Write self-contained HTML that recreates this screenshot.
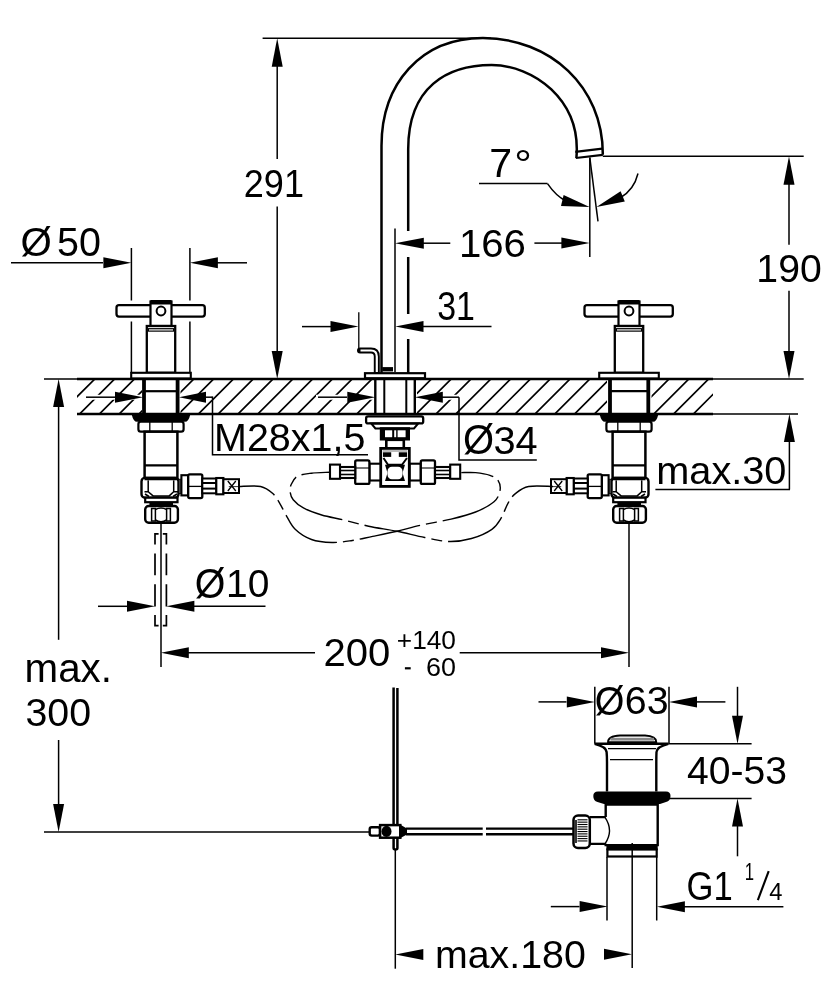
<!DOCTYPE html>
<html><head><meta charset="utf-8"><style>
html,body{margin:0;padding:0;background:#fff;width:834px;height:1000px;overflow:hidden}
svg{display:block;will-change:transform}
text{font-family:"Liberation Sans",sans-serif;fill:#000;stroke:none}
</style></head><body>
<svg width="834" height="1000" viewBox="0 0 834 1000" stroke="#000" fill="none">
<defs><clipPath id="hc"><rect x="77" y="380" width="636" height="33"/></clipPath></defs>
<path d="M0.4,414 L35.4,379 M20.2,414 L55.2,379 M40.0,414 L75.0,379 M59.8,414 L94.8,379 M79.6,414 L114.6,379 M99.4,414 L134.4,379 M119.2,414 L154.2,379 M139.0,414 L174.0,379 M158.8,414 L193.8,379 M178.6,414 L213.6,379 M198.4,414 L233.4,379 M218.2,414 L253.2,379 M238.0,414 L273.0,379 M257.8,414 L292.8,379 M277.6,414 L312.6,379 M297.4,414 L332.4,379 M317.2,414 L352.2,379 M337.0,414 L372.0,379 M356.8,414 L391.8,379 M376.6,414 L411.6,379 M396.4,414 L431.4,379 M416.2,414 L451.2,379 M436.0,414 L471.0,379 M455.8,414 L490.8,379 M475.6,414 L510.6,379 M495.4,414 L530.4,379 M515.2,414 L550.2,379 M535.0,414 L570.0,379 M554.8,414 L589.8,379 M574.6,414 L609.6,379 M594.4,414 L629.4,379 M614.2,414 L649.2,379 M634.0,414 L669.0,379 M653.8,414 L688.8,379 M673.6,414 L708.6,379 M693.4,414 L728.4,379 M713.2,414 L748.2,379 M733.0,414 L768.0,379 M752.8,414 L787.8,379" stroke-width="1.7" clip-path="url(#hc)"/>
<line x1="84.00" y1="397.20" x2="143.00" y2="397.20" stroke-width="5" stroke="#fff"/>
<line x1="179.00" y1="397.20" x2="212.50" y2="397.20" stroke-width="5" stroke="#fff"/>
<line x1="316.00" y1="397.20" x2="375.00" y2="397.20" stroke-width="5" stroke="#fff"/>
<line x1="415.00" y1="397.20" x2="459.00" y2="397.20" stroke-width="5" stroke="#fff"/>
<rect x="142.00" y="380.00" width="38.50" height="33.00" rx="0" stroke-width="0" fill="#fff"  stroke="none"/>
<rect x="607.00" y="380.00" width="44.50" height="33.00" rx="0" stroke-width="0" fill="#fff"  stroke="none"/>
<rect x="373.00" y="380.00" width="44.00" height="33.00" rx="0" stroke-width="0" fill="#fff"  stroke="none"/>
<line x1="77.00" y1="379.00" x2="713.00" y2="379.00" stroke-width="2.4" />
<line x1="44.00" y1="379.00" x2="77.00" y2="379.00" stroke-width="1.5" />
<line x1="713.00" y1="379.00" x2="803.70" y2="379.00" stroke-width="1.5" />
<line x1="77.00" y1="414.00" x2="713.00" y2="414.00" stroke-width="2.4" />
<line x1="713.00" y1="414.00" x2="798.00" y2="414.00" stroke-width="1.5" />
<path d="M381.5,373 V145.96 C381.5,83.74 420.77,38.08 482.87,38.08 C549.93,38.08 603.27,86.51 602.8,154.8" stroke-width="2.5" fill="none" />
<path d="M408.2,231 V149.19 C408.2,86.64 447.53,65.06 491.64,65.06 C532.62,65.06 581.60,99.10 576.4,158" stroke-width="2.5" fill="none" />
<line x1="408.20" y1="257.00" x2="408.20" y2="314.00" stroke-width="2.5" />
<line x1="408.20" y1="339.00" x2="408.20" y2="373.00" stroke-width="2.5" />
<path d="M575.3,151.8 L602.3,148.6 M575.8,158 L602.8,154.8" stroke-width="2.2" fill="none" />
<rect x="382.20" y="367.10" width="10.80" height="4.30" rx="0" stroke-width="0" fill="#000"  stroke="none"/>
<line x1="358.80" y1="312.20" x2="358.80" y2="348.00" stroke-width="1.3" />
<path d="M360,350.5 H371 Q376.8,350.5 376.8,356.5 V373" stroke-width="6" fill="none" stroke-linecap="round"/>
<path d="M360.5,350.5 H371 Q376.8,350.5 376.8,356.5 V372" stroke-width="2.2" fill="none" stroke="#fff"/>
<rect x="365.00" y="373.20" width="60.00" height="5.00" rx="0" stroke-width="2.2" fill="#fff" />
<line x1="262.60" y1="38.20" x2="491.00" y2="38.20" stroke-width="1.5" />
<line x1="277.20" y1="66.00" x2="277.20" y2="159.00" stroke-width="1.5" />
<line x1="277.20" y1="206.40" x2="277.20" y2="352.00" stroke-width="1.5" />
<polygon points="277.2,38.2 282.7,66.7 271.7,66.7" fill="#000" stroke="none"/>
<polygon points="277.2,379.0 271.7,351.0 282.7,351.0" fill="#000" stroke="none"/>
<text transform="matrix(0.36051 0 0 0.39155 243.80 196.51)" font-size="100">291</text>
<line x1="395.00" y1="228.50" x2="395.00" y2="372.00" stroke-width="1.5" />
<polygon points="395.0,243.2 423.8,237.7 423.8,248.7" fill="#000" stroke="none"/>
<line x1="423.00" y1="243.20" x2="450.30" y2="243.20" stroke-width="1.5" />
<text transform="matrix(0.40195 0 0 0.38592 458.88 256.71)" font-size="100">166</text>
<line x1="534.40" y1="243.10" x2="562.00" y2="243.10" stroke-width="1.5" />
<polygon points="589.6,243.1 561.4,248.6 561.4,237.6" fill="#000" stroke="none"/>
<line x1="589.80" y1="157.60" x2="589.80" y2="257.00" stroke-width="1.5" />
<line x1="589.80" y1="157.60" x2="598.00" y2="221.40" stroke-width="1.5" />
<text transform="matrix(0.41087 0 0 0.40735 489.15 177.11)" font-size="100">7</text>
<text transform="matrix(0.43929 0 0 0.41071 514.36 178.45)" font-size="100">°</text>
<line x1="479.00" y1="183.60" x2="547.50" y2="183.60" stroke-width="1.5" />
<path d="M547.5,183.6 Q556,196 566,201" stroke-width="1.5" fill="none" />
<polygon points="589.6,207.0 561.0,205.9 563.6,195.1" fill="#000" stroke="none"/>
<polygon points="596.5,207.0 620.6,191.2 624.8,201.4" fill="#000" stroke="none"/>
<path d="M620,198 Q634,190 638,173.5" stroke-width="1.5" fill="none" />
<line x1="602.80" y1="156.20" x2="803.70" y2="156.20" stroke-width="1.5" />
<polygon points="789.0,156.2 794.5,184.8 783.5,184.8" fill="#000" stroke="none"/>
<line x1="789.00" y1="184.00" x2="789.00" y2="244.80" stroke-width="1.5" />
<line x1="789.00" y1="290.70" x2="789.00" y2="352.00" stroke-width="1.5" />
<polygon points="789.0,379.0 783.5,351.0 794.5,351.0" fill="#000" stroke="none"/>
<text transform="matrix(0.39161 0 0 0.38310 756.37 281.82)" font-size="100">190</text>
<line x1="302.00" y1="326.60" x2="331.00" y2="326.60" stroke-width="1.5" />
<polygon points="358.5,326.6 330.5,332.1 330.5,321.1" fill="#000" stroke="none"/>
<polygon points="395.3,326.6 423.5,321.1 423.5,332.1" fill="#000" stroke="none"/>
<line x1="423.00" y1="326.60" x2="491.50" y2="326.60" stroke-width="1.5" />
<text transform="matrix(0.33922 0 0 0.40141 437.24 319.90)" font-size="100">31</text>
<line x1="11.00" y1="262.80" x2="103.00" y2="262.80" stroke-width="1.5" />
<polygon points="131.4,262.8 103.4,268.3 103.4,257.3" fill="#000" stroke="none"/>
<polygon points="189.9,262.8 217.9,257.3 217.9,268.3" fill="#000" stroke="none"/>
<line x1="217.00" y1="262.80" x2="247.00" y2="262.80" stroke-width="1.5" />
<line x1="131.40" y1="248.00" x2="131.40" y2="300.50" stroke-width="1.5" />
<line x1="131.40" y1="321.50" x2="131.40" y2="373.00" stroke-width="1.5" />
<line x1="189.90" y1="248.00" x2="189.90" y2="300.50" stroke-width="1.5" />
<line x1="189.90" y1="321.50" x2="189.90" y2="373.00" stroke-width="1.5" />
<text transform="matrix(0.40286 0 0 0.41081 20.39 255.78)" font-size="100">Ø</text>
<text transform="matrix(0.39515 0 0 0.39718 57.02 255.60)" font-size="100">50</text>
<rect x="116.50" y="305.20" width="88.30" height="11.40" rx="2.5" stroke-width="2.3" fill="#fff" />
<rect x="150.50" y="301.50" width="21.00" height="24.50" rx="0" stroke-width="2.2" fill="#fff" />
<rect x="150.50" y="300.00" width="21.00" height="4.50" rx="0" stroke-width="0" fill="#000"  stroke="none"/>
<circle cx="161" cy="311" r="4.4" stroke-width="2" fill="#fff"/>
<rect x="146.80" y="326.00" width="28.40" height="46.80" rx="0" stroke-width="2.3" fill="#fff" />
<rect x="148.50" y="328.60" width="25.00" height="2.60" rx="0" stroke-width="1" fill="#bbb" />
<rect x="131.20" y="372.80" width="59.60" height="5.60" rx="0" stroke-width="2.1" fill="#fff" />
<rect x="142.10" y="379.00" width="3.80" height="35.00" rx="0" stroke-width="0" fill="#000"  stroke="none"/>
<rect x="175.70" y="379.00" width="3.80" height="35.00" rx="0" stroke-width="0" fill="#000"  stroke="none"/>
<line x1="145.10" y1="391.20" x2="176.50" y2="391.20" stroke-width="2.2" />
<path d="M132.5,414.5 H189.5 Q188,421 185,421 H137 Q134,421 132.5,414.5 Z" stroke-width="1.5" fill="#000" />
<rect x="138.40" y="421.70" width="45.20" height="10.00" rx="2.5" stroke-width="2.2" fill="#fff" />
<line x1="149.80" y1="422.00" x2="149.80" y2="431.00" stroke-width="1.3" />
<line x1="172.20" y1="422.00" x2="172.20" y2="431.00" stroke-width="1.3" />
<rect x="144.60" y="431.70" width="32.80" height="46.30" rx="0" stroke-width="2.5" fill="#fff" />
<line x1="144.60" y1="465.30" x2="177.40" y2="465.30" stroke-width="2.3" />
<rect x="141.50" y="477.90" width="37.00" height="19.80" rx="3.5" stroke-width="2.4" fill="#fff" />
<path d="M148.2,480.5 V491.7 L153.1,495.9 H169.2 L173.7,491.7 V480.5 M144.5,479.6 H177.5 M144.5,491.7 H148.2 M173.7,491.7 H178 M145,494 L149,496.5 M177,494 L173,496.5" stroke-width="1.5" fill="none" />
<rect x="145.20" y="497.70" width="32.30" height="4.50" rx="0" stroke-width="2.2" fill="#fff" />
<rect x="149.40" y="502.20" width="23.60" height="4.00" rx="0" stroke-width="0" fill="#000"  stroke="none"/>
<rect x="145.20" y="506.00" width="32.70" height="16.80" rx="3.5" stroke-width="2.4" fill="#fff" />
<rect x="151.60" y="508.50" width="3.80" height="12.50" rx="0" stroke-width="1.5" fill="#fff" />
<rect x="166.60" y="508.50" width="3.80" height="12.50" rx="0" stroke-width="1.5" fill="#fff" />
<path d="M155.4,509.5 Q161,506.5 166.6,509.5 M155.4,520 Q161,523.5 166.6,520" stroke-width="1.5" fill="none" />
<rect x="584.50" y="305.20" width="88.30" height="11.40" rx="2.5" stroke-width="2.3" fill="#fff" />
<rect x="618.50" y="301.50" width="21.00" height="24.50" rx="0" stroke-width="2.2" fill="#fff" />
<rect x="618.50" y="300.00" width="21.00" height="4.50" rx="0" stroke-width="0" fill="#000"  stroke="none"/>
<circle cx="629" cy="311" r="4.4" stroke-width="2" fill="#fff"/>
<rect x="614.80" y="326.00" width="28.40" height="46.80" rx="0" stroke-width="2.3" fill="#fff" />
<rect x="616.50" y="328.60" width="25.00" height="2.60" rx="0" stroke-width="1" fill="#bbb" />
<rect x="599.20" y="372.80" width="59.60" height="5.60" rx="0" stroke-width="2.1" fill="#fff" />
<rect x="608.10" y="379.00" width="3.80" height="35.00" rx="0" stroke-width="0" fill="#000"  stroke="none"/>
<rect x="646.40" y="379.00" width="3.80" height="35.00" rx="0" stroke-width="0" fill="#000"  stroke="none"/>
<line x1="611.10" y1="391.20" x2="647.20" y2="391.20" stroke-width="2.2" />
<path d="M600.5,414.5 H657.5 Q656,421 653,421 H605 Q602,421 600.5,414.5 Z" stroke-width="1.5" fill="#000" />
<rect x="606.40" y="421.70" width="45.20" height="10.00" rx="2.5" stroke-width="2.2" fill="#fff" />
<line x1="617.80" y1="422.00" x2="617.80" y2="431.00" stroke-width="1.3" />
<line x1="640.20" y1="422.00" x2="640.20" y2="431.00" stroke-width="1.3" />
<rect x="612.60" y="431.70" width="32.80" height="46.30" rx="0" stroke-width="2.5" fill="#fff" />
<line x1="612.60" y1="465.30" x2="645.40" y2="465.30" stroke-width="2.3" />
<rect x="611.50" y="477.90" width="37.00" height="19.80" rx="3.5" stroke-width="2.4" fill="#fff" />
<path d="M616.2,480.5 V491.7 L621.1,495.9 H637.2 L641.7,491.7 V480.5 M612.5,479.6 H645.5 M612.5,491.7 H616.2 M641.7,491.7 H646 M613,494 L617,496.5 M645,494 L641,496.5" stroke-width="1.5" fill="none" />
<rect x="613.20" y="497.70" width="32.30" height="4.50" rx="0" stroke-width="2.2" fill="#fff" />
<rect x="617.40" y="502.20" width="23.60" height="4.00" rx="0" stroke-width="0" fill="#000"  stroke="none"/>
<rect x="613.20" y="506.00" width="32.70" height="16.80" rx="3.5" stroke-width="2.4" fill="#fff" />
<rect x="619.60" y="508.50" width="3.80" height="12.50" rx="0" stroke-width="1.5" fill="#fff" />
<rect x="634.60" y="508.50" width="3.80" height="12.50" rx="0" stroke-width="1.5" fill="#fff" />
<path d="M623.4,509.5 Q629,506.5 634.6,509.5 M623.4,520 Q629,523.5 634.6,520" stroke-width="1.5" fill="none" />
<rect x="178.80" y="479.20" width="2.60" height="14.20" rx="0" stroke-width="0.8" fill="#555" />
<rect x="181.40" y="475.20" width="6.80" height="20.20" rx="0" stroke-width="2.1" fill="#fff" />
<rect x="188.20" y="474.30" width="14.10" height="23.80" rx="1.5" stroke-width="2.3" fill="#fff" />
<line x1="188.20" y1="486.40" x2="202.30" y2="486.40" stroke-width="1.3" />
<rect x="202.30" y="478.50" width="14.00" height="14.80" rx="0" stroke-width="2" fill="#fff" />
<line x1="202.30" y1="483.00" x2="216.30" y2="483.00" stroke-width="2" />
<line x1="202.30" y1="488.60" x2="216.30" y2="488.60" stroke-width="2" />
<rect x="216.30" y="478.00" width="7.10" height="16.30" rx="0" stroke-width="2.1" fill="#fff" />
<rect x="223.40" y="479.20" width="15.60" height="13.80" rx="0" stroke-width="2" fill="#fff" />
<path d="M227.8,481 L235.8,491 M227.8,491 L235.8,481" stroke-width="1.3" fill="none" />
<line x1="228.80" y1="486.60" x2="238.80" y2="486.60" stroke-width="0.8" />
<rect x="608.60" y="479.20" width="2.60" height="14.20" rx="0" stroke-width="0.8" fill="#555" />
<rect x="601.80" y="475.20" width="6.80" height="20.20" rx="0" stroke-width="2.1" fill="#fff" />
<rect x="587.70" y="474.30" width="14.10" height="23.80" rx="1.5" stroke-width="2.3" fill="#fff" />
<line x1="587.70" y1="486.40" x2="601.80" y2="486.40" stroke-width="1.3" />
<rect x="573.70" y="478.50" width="14.00" height="14.80" rx="0" stroke-width="2" fill="#fff" />
<line x1="573.70" y1="483.00" x2="587.70" y2="483.00" stroke-width="2" />
<line x1="573.70" y1="488.60" x2="587.70" y2="488.60" stroke-width="2" />
<rect x="566.60" y="478.00" width="7.10" height="16.30" rx="0" stroke-width="2.1" fill="#fff" />
<rect x="551.00" y="479.20" width="15.60" height="13.80" rx="0" stroke-width="2" fill="#fff" />
<path d="M562.2,481 L554.2,491 M562.2,491 L554.2,481" stroke-width="1.3" fill="none" />
<line x1="551.20" y1="486.60" x2="561.20" y2="486.60" stroke-width="0.8" />
<line x1="375.30" y1="379.00" x2="375.30" y2="414.00" stroke-width="2.4" />
<line x1="414.80" y1="379.00" x2="414.80" y2="414.00" stroke-width="2.4" />
<line x1="384.30" y1="379.00" x2="384.30" y2="414.00" stroke-width="2" />
<line x1="406.30" y1="379.00" x2="406.30" y2="414.00" stroke-width="2" />
<rect x="366.10" y="416.40" width="57.10" height="7.00" rx="2" stroke-width="2.3" fill="#fff" />
<path d="M371.2,423.4 H418.2 L414,428.5 H375.4 Z" stroke-width="2" fill="none" />
<rect x="379.80" y="427.20" width="30.20" height="13.30" rx="0" stroke-width="0" fill="#000"  stroke="none"/>
<rect x="385.00" y="430.30" width="7.20" height="6.90" rx="0" stroke-width="0" fill="#fff"  stroke="none"/>
<rect x="397.60" y="430.30" width="8.00" height="6.90" rx="0" stroke-width="0" fill="#fff"  stroke="none"/>
<rect x="394.20" y="430.30" width="2.00" height="6.90" rx="0" stroke-width="0" fill="#fff"  stroke="none"/>
<rect x="386.30" y="439.80" width="17.50" height="9.00" rx="0" stroke-width="2.6" fill="#fff" />
<rect x="380.70" y="448.40" width="28.60" height="38.00" rx="0" stroke-width="2.8" fill="#fff" />
<line x1="383.00" y1="451.00" x2="407.00" y2="451.00" stroke-width="1" stroke="#777"/>
<rect x="383.00" y="452.30" width="8.20" height="4.60" rx="0" stroke-width="0" fill="#000"  stroke="none"/>
<rect x="398.80" y="452.30" width="8.20" height="4.60" rx="0" stroke-width="0" fill="#000"  stroke="none"/>
<path d="M383.5,458 L388,464.8 H402 L407,458" stroke-width="2" fill="none" />
<path d="M385,464.8 H405 L402.5,473 L405,481 H385 L387.5,473 Z" stroke-width="0" fill="#000" />
<rect x="387.5" y="466.8" width="15" height="12.5" rx="4.5" fill="#fff" stroke="none"/>
<rect x="369.40" y="463.70" width="11.00" height="16.80" rx="0" stroke-width="2.1" fill="#fff" />
<rect x="355.20" y="460.40" width="14.20" height="23.50" rx="1.5" stroke-width="2.3" fill="#fff" />
<line x1="355.20" y1="468.00" x2="369.40" y2="468.00" stroke-width="1.1" />
<rect x="340.00" y="467.00" width="15.20" height="11.00" rx="0" stroke-width="2.1" fill="#fff" />
<line x1="340.00" y1="470.50" x2="355.20" y2="470.50" stroke-width="1.6" />
<line x1="340.00" y1="474.50" x2="355.20" y2="474.50" stroke-width="1.6" />
<rect x="330.00" y="464.60" width="10.00" height="14.20" rx="0" stroke-width="2.1" fill="#fff" />
<rect x="409.80" y="463.70" width="11.00" height="16.80" rx="0" stroke-width="2.1" fill="#fff" />
<rect x="420.80" y="460.40" width="14.20" height="23.50" rx="1.5" stroke-width="2.3" fill="#fff" />
<line x1="420.80" y1="468.00" x2="435.00" y2="468.00" stroke-width="1.1" />
<rect x="435.00" y="467.00" width="15.20" height="11.00" rx="0" stroke-width="2.1" fill="#fff" />
<line x1="435.00" y1="470.50" x2="450.20" y2="470.50" stroke-width="1.6" />
<line x1="435.00" y1="474.50" x2="450.20" y2="474.50" stroke-width="1.6" />
<rect x="450.20" y="464.60" width="10.00" height="14.20" rx="0" stroke-width="2.1" fill="#fff" />
<line x1="318.00" y1="397.20" x2="347.00" y2="397.20" stroke-width="1.5" />
<polygon points="375.3,397.2 347.3,402.7 347.3,391.7" fill="#000" stroke="none"/>
<polygon points="414.8,397.2 442.8,391.7 442.8,402.7" fill="#000" stroke="none"/>
<line x1="442.00" y1="397.20" x2="459.00" y2="397.20" stroke-width="1.5" />
<path d="M459,397.2 V460 H536.8" stroke-width="1.5" fill="none" />
<text transform="matrix(0.40000 0 0 0.41892 463.00 454.16)" font-size="100">Ø</text>
<text transform="matrix(0.39712 0 0 0.39718 493.41 453.60)" font-size="100">34</text>
<line x1="86.00" y1="397.20" x2="115.00" y2="397.20" stroke-width="1.5" />
<polygon points="143.0,397.2 115.0,402.7 115.0,391.7" fill="#000" stroke="none"/>
<polygon points="179.0,397.2 206.0,391.7 206.0,402.7" fill="#000" stroke="none"/>
<line x1="205.00" y1="397.20" x2="212.50" y2="397.20" stroke-width="1.5" />
<path d="M212.5,396.6 V454.7 H368" stroke-width="1.5" fill="none" />
<text transform="matrix(0.39461 0 0 0.39277 214.04 450.69)" font-size="100">M28x1,5</text>
<line x1="789.40" y1="440.00" x2="789.40" y2="489.50" stroke-width="1.5" />
<polygon points="789.4,414.0 794.9,442.0 783.9,442.0" fill="#000" stroke="none"/>
<path d="M655.4,489.5 H790" stroke-width="1.5" fill="none" />
<text transform="matrix(0.39716 0 0 0.38732 656.22 484.21)" font-size="100">max.30</text>
<path d="M239.2,486.5 C242.8,486.5 255.0,485.3 260.6,486.5 C266.2,487.7 269.6,490.7 272.8,493.6 C276.0,496.5 277.8,500.2 280.0,503.8 C282.2,507.4 283.5,510.8 286.0,515.0 C288.5,519.2 290.9,525.2 295.2,529.3 C299.4,533.4 305.4,537.3 311.5,539.5 C317.6,541.7 325.2,542.3 332.0,542.5 C338.8,542.7 345.5,541.5 352.3,540.5 C359.1,539.5 365.2,537.9 372.7,536.4 C380.2,534.9 389.1,533.2 397.1,531.3 C405.1,529.4 411.6,527.2 420.6,525.2 C429.6,523.2 441.9,521.3 451.1,519.1 C460.3,516.9 468.5,514.9 475.6,512.0 C482.8,509.1 489.9,505.4 494.0,501.8 C498.1,498.2 499.3,494.2 500.0,490.6 C500.7,487.0 499.7,482.9 498.0,480.4 C496.3,477.8 493.6,476.6 489.9,475.3 C486.2,474.0 480.4,473.1 475.6,472.6 C470.8,472.2 463.7,472.6 461.3,472.6" stroke-width="1.4" fill="none" stroke-dasharray="62 6 11 6" stroke-dashoffset="24"/>
<path d="M553.0,486.5 C548.9,486.5 534.9,485.3 528.6,486.5 C522.3,487.7 518.8,490.9 515.4,493.6 C512.0,496.3 510.6,498.7 508.2,502.8 C505.8,506.9 503.8,513.7 501.1,518.1 C498.4,522.5 496.8,525.9 491.9,529.3 C487.0,532.7 478.6,536.5 471.5,538.5 C464.4,540.5 456.9,541.7 449.1,541.5 C441.3,541.3 433.4,539.2 424.7,537.5 C416.0,535.8 406.5,533.2 397.1,531.3 C387.8,529.4 377.4,528.1 368.6,526.2 C359.8,524.3 351.9,522.0 344.1,520.1 C336.3,518.2 328.5,517.0 321.7,515.0 C314.9,513.0 308.1,510.4 303.4,507.9 C298.6,505.3 295.4,502.4 293.2,499.7 C291.0,497.0 290.4,494.1 290.1,491.6 C289.8,489.1 290.0,487.1 291.2,484.5 C292.4,481.9 293.9,478.2 297.3,476.3 C300.7,474.4 306.1,473.9 311.5,473.2 C316.9,472.5 326.8,472.4 329.9,472.2" stroke-width="1.4" fill="none" stroke-dasharray="62 6 11 6" stroke-dashoffset="18"/>
<path d="M158.6,533.8 H155 V544.6 M155,553.6 V575.3 M155,584.3 V606.5 M155,614.9 V625.7 H158.6 M162.8,533.8 H166.4 V544.6 M166.4,553.6 V575.3 M166.4,584.3 V606.5 M166.4,614.9 V625.7 H162.8" stroke-width="1.7" fill="none" />
<line x1="161.00" y1="522.80" x2="161.00" y2="667.00" stroke-width="1.5" />
<line x1="98.00" y1="606.30" x2="127.00" y2="606.30" stroke-width="1.5" />
<polygon points="155.0,606.3 127.0,611.8 127.0,600.8" fill="#000" stroke="none"/>
<polygon points="166.4,606.3 194.4,600.8 194.4,611.8" fill="#000" stroke="none"/>
<line x1="194.00" y1="606.30" x2="265.50" y2="606.30" stroke-width="1.5" />
<text transform="matrix(0.39429 0 0 0.42027 194.82 597.66)" font-size="100">Ø</text>
<text transform="matrix(0.38990 0 0 0.39718 225.98 596.80)" font-size="100">10</text>
<line x1="629.00" y1="522.80" x2="629.00" y2="667.00" stroke-width="1.5" />
<polygon points="160.8,652.8 188.8,647.3 188.8,658.3" fill="#000" stroke="none"/>
<line x1="188.00" y1="652.80" x2="315.00" y2="652.80" stroke-width="1.5" />
<polygon points="629.0,652.8 601.0,658.3 601.0,647.3" fill="#000" stroke="none"/>
<line x1="459.70" y1="652.80" x2="601.50" y2="652.80" stroke-width="1.5" />
<text transform="matrix(0.40063 0 0 0.39296 323.40 666.01)" font-size="100">200</text>
<text transform="matrix(0.26296 0 0 0.25775 396.79 649.34)" font-size="100">+140</text>
<rect x="404.90" y="667.20" width="5.80" height="2.20" rx="0" stroke-width="0" fill="#000"  stroke="none"/>
<text transform="matrix(0.26961 0 0 0.26620 426.05 676.03)" font-size="100">60</text>
<line x1="58.60" y1="407.00" x2="58.60" y2="639.80" stroke-width="1.5" />
<polygon points="58.6,379.0 64.1,407.0 53.1,407.0" fill="#000" stroke="none"/>
<text transform="matrix(0.40348 0 0 0.39818 24.58 681.70)" font-size="100">max.</text>
<text transform="matrix(0.39308 0 0 0.39577 25.43 725.70)" font-size="100">300</text>
<polygon points="58.6,832.0 53.1,804.0 64.1,804.0" fill="#000" stroke="none"/>
<line x1="58.60" y1="740.00" x2="58.60" y2="804.00" stroke-width="1.5" />
<line x1="44.00" y1="832.00" x2="370.00" y2="832.00" stroke-width="1.5" />
<path d="M393.6,687.5 V848 Q393.6,849.5 395.5,849.5 Q397.4,849.5 397.4,848 V688" stroke-width="2.5" fill="none" />
<rect x="369.70" y="827.30" width="10.30" height="8.30" rx="2" stroke-width="2.4" fill="#fff" />
<rect x="380.10" y="825.10" width="20.20" height="12.60" rx="0" stroke-width="2.5" fill="#fff" />
<ellipse cx="386.5" cy="831.4" rx="5" ry="5.6" fill="#000" stroke="none"/>
<polygon points="399,824 407,828.6 407,834.5 399,838.8" fill="#000" stroke="none"/>
<path d="M406,828.6 H482.7 M486,828.6 H573.3 M406,834.3 H482.7 M486,834.3 H573.3" stroke-width="2.4" fill="none" />
<rect x="573.50" y="815.50" width="16.30" height="32.40" rx="4.5" stroke-width="2.5" fill="#fff" />
<rect x="574.50" y="820.00" width="2.50" height="23.00" rx="0" stroke-width="0" fill="#333"  stroke="none"/>
<line x1="577.50" y1="819.80" x2="587.50" y2="819.80" stroke-width="1.1" />
<line x1="577.50" y1="822.15" x2="587.50" y2="822.15" stroke-width="1.1" />
<line x1="577.50" y1="824.50" x2="587.50" y2="824.50" stroke-width="1.1" />
<line x1="577.50" y1="826.85" x2="587.50" y2="826.85" stroke-width="1.1" />
<line x1="577.50" y1="829.20" x2="587.50" y2="829.20" stroke-width="1.1" />
<line x1="577.50" y1="831.55" x2="587.50" y2="831.55" stroke-width="1.1" />
<line x1="577.50" y1="833.90" x2="587.50" y2="833.90" stroke-width="1.1" />
<line x1="577.50" y1="836.25" x2="587.50" y2="836.25" stroke-width="1.1" />
<line x1="577.50" y1="838.60" x2="587.50" y2="838.60" stroke-width="1.1" />
<line x1="577.50" y1="840.95" x2="587.50" y2="840.95" stroke-width="1.1" />
<path d="M589.8,817.1 H605.7 M589.8,843.8 H605.7" stroke-width="2.3" fill="none" />
<path d="M605,817.3 Q614,830.5 605,843.8" stroke-width="1.4" fill="none" />
<path d="M605.7,817.1 V804.5 H657.7 V845.1 H605.7 V843.8" stroke-width="2.4" fill="none" />
<path d="M598,791.4 H666 Q670.5,791.4 670.5,796 Q670.5,801 666,802 L660,804 H604 L597.5,802 Q593.3,801 593.3,796 Q593.3,791.4 598,791.4 Z" stroke-width="0" fill="#000" />
<path d="M594.6,743.8 H668.4 Q657,746.5 656.5,752 Q656.3,756 656.3,762 V791.4 M594.6,743.8 Q606,746.5 606.6,752 Q607,756 607,762 V791.4" stroke-width="2.4" fill="none" />
<line x1="608.00" y1="748.60" x2="656.00" y2="748.60" stroke-width="1.4" />
<line x1="610.00" y1="759.60" x2="653.00" y2="759.60" stroke-width="1.4" />
<path d="M608,742.1 Q608,736 620,735.5 H645 Q656.3,736 656.3,742.1 Z" stroke-width="1.8" fill="#fff" />
<rect x="610.50" y="737.80" width="43.50" height="2.80" rx="0" stroke-width="0" fill="#888"  stroke="none"/>
<rect x="606.40" y="845.60" width="51.30" height="4.60" rx="0" stroke-width="0" fill="#000"  stroke="none"/>
<rect x="607.40" y="849.50" width="49.30" height="7.00" rx="0" stroke-width="2.2" fill="#fff" />
<line x1="607.00" y1="857.00" x2="607.00" y2="920.50" stroke-width="1.5" />
<line x1="656.70" y1="857.00" x2="656.70" y2="920.50" stroke-width="1.5" />
<line x1="632.20" y1="843.00" x2="632.20" y2="968.10" stroke-width="1.5" />
<line x1="594.80" y1="686.80" x2="594.80" y2="743.80" stroke-width="1.5" />
<line x1="669.00" y1="686.80" x2="669.00" y2="743.80" stroke-width="1.5" />
<line x1="538.50" y1="701.90" x2="566.50" y2="701.90" stroke-width="1.5" />
<polygon points="594.8,701.9 566.8,707.4 566.8,696.4" fill="#000" stroke="none"/>
<polygon points="669.0,701.9 697.0,696.4 697.0,707.4" fill="#000" stroke="none"/>
<line x1="696.00" y1="701.90" x2="725.40" y2="701.90" stroke-width="1.5" />
<text transform="matrix(0.38143 0 0 0.41351 594.67 715.17)" font-size="100">Ø</text>
<text transform="matrix(0.39314 0 0 0.38873 624.83 714.41)" font-size="100">63</text>
<line x1="737.50" y1="686.80" x2="737.50" y2="716.00" stroke-width="1.5" />
<polygon points="737.5,743.8 732.0,715.8 743.0,715.8" fill="#000" stroke="none"/>
<line x1="668.40" y1="743.80" x2="751.60" y2="743.80" stroke-width="1.5" />
<line x1="667.70" y1="798.60" x2="751.60" y2="798.60" stroke-width="1.5" />
<polygon points="737.5,798.6 743.0,826.6 732.0,826.6" fill="#000" stroke="none"/>
<line x1="737.50" y1="826.00" x2="737.50" y2="856.30" stroke-width="1.5" />
<text transform="matrix(0.39116 0 0 0.38873 687.02 784.21)" font-size="100">40-53</text>
<line x1="550.80" y1="906.60" x2="579.50" y2="906.60" stroke-width="1.5" />
<polygon points="607.6,906.6 579.6,912.1 579.6,901.1" fill="#000" stroke="none"/>
<polygon points="656.9,906.7 684.9,901.2 684.9,912.2" fill="#000" stroke="none"/>
<line x1="684.00" y1="906.70" x2="783.40" y2="906.70" stroke-width="1.5" />
<text transform="matrix(0.34634 0 0 0.40282 686.47 899.80)" font-size="100">G1</text>
<text transform="matrix(0.16744 0 0 0.24783 744.66 880.40)" font-size="100">1</text>
<line x1="757.80" y1="900.20" x2="768.70" y2="871.20" stroke-width="2.1" />
<text transform="matrix(0.23725 0 0 0.23676 769.23 899.84)" font-size="100">4</text>
<line x1="395.30" y1="849.50" x2="395.30" y2="968.70" stroke-width="1.5" />
<polygon points="395.3,954.6 423.3,949.1 423.3,960.1" fill="#000" stroke="none"/>
<polygon points="632.0,954.3 604.0,959.8 604.0,948.8" fill="#000" stroke="none"/>
<text transform="matrix(0.39330 0 0 0.37887 434.95 967.62)" font-size="100">max.180</text>
</svg></body></html>
